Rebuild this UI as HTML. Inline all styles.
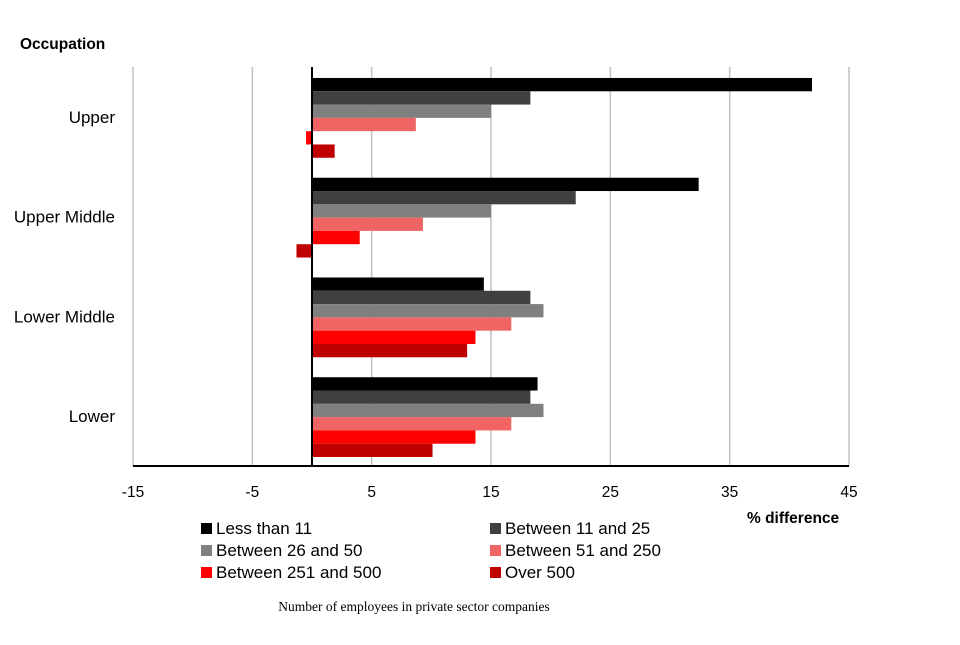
<!DOCTYPE html>
<html><head><meta charset="utf-8"><style>
body{margin:0;background:#fff;width:960px;height:640px;overflow:hidden}
text{font-family:"Liberation Sans",sans-serif}
</style></head><body>
<svg width="960" height="640">
<g id="grid"></g><g id="bars"></g><g id="axes"></g><g id="legend"></g>
<text x="20" y="49" font-size="15.5" font-weight="bold">Occupation</text>
<text x="747" y="523" font-size="15.5" font-weight="bold">% difference</text>
<text x="414" y="611" font-size="13.5" text-anchor="middle" style="font-family:'Liberation Serif',serif">Number of employees in private sector companies</text>
</svg>
<script>
const categories=["Upper","Upper Middle","Lower Middle","Lower"];
const seriesNames=["Less than 11","Between 11 and 25","Between 26 and 50","Between 51 and 250","Between 251 and 500","Over 500"];
const s1=[41.9,32.4,14.4,18.9];
const s2=[18.3,22.1,18.3,18.3];
const s3=[15,15,19.4,19.4];
const s4=[8.7,9.3,16.7,16.7];
const s5=[-0.5,4,13.7,13.7];
const s6=[1.9,-1.3,13,10.1];
const ticks=[-15,-5,5,15,25,35,45];
const series=[s1,s2,s3,s4,s5,s6];
const colors=["#000000","#404040","#808080","#f06464","#ff0000","#c00000"];
const NS="http://www.w3.org/2000/svg";
const x0=133,x1=849,yTop=67,yBot=466,xmin=-15,xmax=45;
const xs=v=>x0+(v-xmin)/(xmax-xmin)*(x1-x0);
const band=(yBot-yTop)/categories.length, bh=13.3;
function mk(t,a,p){const e=document.createElementNS(NS,t);for(const k in a)e.setAttribute(k,a[k]);p.appendChild(e);return e;}
const G=document.getElementById('grid'),B=document.getElementById('bars'),A=document.getElementById('axes'),L=document.getElementById('legend');
ticks.forEach(t=>{
 const l=mk('line',{x1:xs(t),x2:xs(t),y1:yTop,y2:yBot,stroke:'#c0c0c0','stroke-width':1.5},G);
 
 
 const tx=mk('text',{x:xs(t),y:497,'font-size':15.5,'text-anchor':'middle'},A);tx.textContent=t;
 
 
});
categories.forEach((c,i)=>{
 const gy=yTop+1+i*band+(band-6*bh)/2;
 series.forEach((s,j)=>{
  const v=s[i],xa=xs(Math.min(0,v)),w=Math.abs(xs(v)-xs(0));
  const r=mk('rect',{x:xa,y:gy+j*bh,width:w,height:bh,fill:colors[j]},B);
  
  
 });
 const t=mk('text',{x:115,y:yTop+i*band+band/2+6,'font-size':17,'text-anchor':'end'},A);t.textContent=c;
 
 
});
const z=mk('line',{x1:xs(0),x2:xs(0),y1:yTop,y2:yBot,stroke:'#000','stroke-width':2},A);


const xa=mk('line',{x1:x0,x2:x1,y1:yBot,y2:yBot,stroke:'#000','stroke-width':2},A);


seriesNames.forEach((n,j)=>{
 const lx=j%2?490:201,ly=523+Math.floor(j/2)*22;
 const g=mk('g',{},L);
 
 
 mk('rect',{x:lx,y:ly,width:11,height:11,fill:colors[j]},g);
 const t=mk('text',{x:lx+15,y:ly+11,'font-size':17},g);t.textContent=n;
});
</script>
</body></html>
